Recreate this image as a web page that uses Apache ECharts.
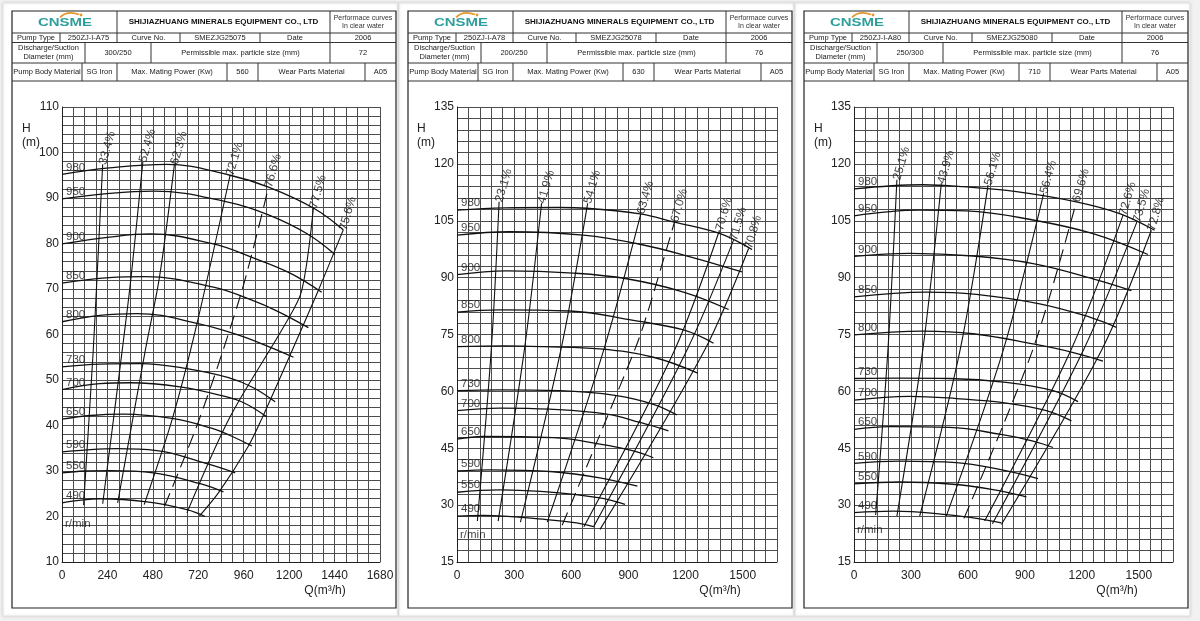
<!DOCTYPE html>
<html><head><meta charset="utf-8">
<script src="https://cdn.jsdelivr.net/npm/echarts@6/dist/echarts.min.js"></script>
<style>html,body{margin:0;padding:0;background:#f1f1f1}#c{width:1200px;height:621px}</style>
</head><body><div id="c"></div>
<script>
// ---------- header data ----------
const pumpTypes = ['250ZJ-I-A75', '250ZJ-I-A78', '250ZJ-I-A80'];
const curveNos = ['SMEZJG25075', 'SMEZJG25078', 'SMEZJG25080'];
const dates = ['2006', '2006', '2006'];
const diameters = ['300/250', '200/250', '250/300'];
const particleSizes = ['72', '76', '76'];
const powers = ['560', '630', '710'];
const bodyMaterial = 'SG Iron';
const wearMaterial = 'A05';

// ---------- axis data ----------
const xTickLabels = [[0, 240, 480, 720, 960, 1200, 1440, 1680], [0, 300, 600, 900, 1200, 1500], [0, 300, 600, 900, 1200, 1500]];
const yTickLabels = [[10, 20, 30, 40, 50, 60, 70, 80, 90, 100, 110], [15, 30, 45, 60, 75, 90, 105, 120, 135], [15, 30, 45, 60, 75, 90, 105, 120, 135]];

// ---------- panel 1 ----------
const speeds1 = [980, 950, 900, 850, 800, 730, 700, 650, 590, 550, 490];
const curves1 = [
  [[0,95.2],[250,96.6],[554,97.4],[888,95.0],[1091,92.4],[1328,87.8],[1486,83.0]],
  [[0,89.8],[250,91.0],[484,91.5],[888,89.0],[1091,86.3],[1293,82.2],[1442,77.6]],
  [[0,79.9],[250,81.4],[466,82.1],[800,79.9],[1000,77.0],[1205,73.5],[1372,69.3]],
  [[0,71.3],[250,72.5],[440,72.7],[800,70.4],[1000,67.6],[1134,65.2],[1302,61.5]],
  [[0,62.8],[200,64.2],[396,64.6],[730,62.3],[930,59.9],[1082,57.5],[1223,55.0]],
  [[0,52.9],[200,53.5],[413,53.6],[660,52.5],[880,50.5],[1011,48.3],[1126,45.2]],
  [[0,47.9],[200,49.2],[360,49.4],[624,48.5],[850,46.5],[960,45.0],[1082,41.9]],
  [[0,41.4],[150,42.2],[325,42.5],[589,41.5],[790,39.4],[888,37.8],[1003,35.5]],
  [[0,34.2],[150,34.7],[290,34.9],[501,34.5],[765,31.6],[915,29.6]],
  [[0,29.6],[120,30.0],[255,30.1],[484,29.6],[730,27.2],[853,25.4]],
  [[0,23.0],[100,23.6],[202,23.9],[449,23.2],[660,21.5],[756,20.0]]
];
const effNames1 = ['33.4%', '52.4%', '62.3%', '72.1%', '76.6%', '77.5%', '75.6%'];
const effLines1 = [
  [[114,22.5],[165,56.5],[185,72.6],[215,97.4]],
  [[215,22.8],[318,56.5],[365,72.6],[427,97.9]],
  [[294,23.0],[440,56.5],[515,72.6],[594,97.4]],
  [[434,22.6],[586,41.9],[712,62.2],[888,95.0]],
  [[542,22.3],[730,41.9],[950,69.6],[1091,92.4]],
  [[660,20.8],[888,41.9],[1178,62.2],[1266,69.6],[1328,87.8]],
  [[726,20.1],[830,25.4],[985,35.5],[1060,41.9],[1200,55.0],[1350,69.3],[1486,83.0]]
];

// ---------- panel 2 ----------
const speeds2 = [980, 950, 900, 850, 800, 730, 700, 650, 590, 550, 490];
const curves2 = [
  [[0,107.8],[250,108.4],[540,108.5],[680,108.3],[961,106.8],[1136,104.7],[1382,101.6],[1549,97.4]],
  [[0,101.2],[277,102.1],[663,101.2],[961,98.8],[1224,95.5],[1496,91.5]],
  [[0,90.8],[260,91.8],[610,91.2],[891,89.7],[1189,86.2],[1426,81.6]],
  [[0,80.9],[224,81.5],[593,81.2],[926,78.7],[1189,76.2],[1347,72.7]],
  [[0,71.8],[250,72.0],[452,71.8],[750,71.2],[1031,69.0],[1264,64.8]],
  [[0,60.2],[224,60.4],[540,60.2],[838,58.9],[1031,56.6],[1154,53.8]],
  [[0,54.9],[224,55.6],[487,55.3],[786,54.0],[961,51.8],[1110,49.6]],
  [[0,47.4],[137,48.1],[505,47.8],[750,46.1],[926,44.3],[1031,42.5]],
  [[0,39.0],[172,39.3],[505,38.8],[750,37.2],[947,35.0]],
  [[0,33.4],[224,34.0],[523,33.3],[750,31.9],[882,30.2]],
  [[0,27.1],[137,27.3],[470,26.2],[628,25.3],[716,24.3]]
];
const effNames2 = ['23.1%', '41.9%', '54.1%', '63.4%', '67.0%', '70.6%', '71.5%', '70.8%'];
const effLines2 = [
  [[107,25.8],[181,71.8],[221,110.0]],
  [[216,25.8],[356,71.8],[444,109.6]],
  [[333,25.5],[549,71.8],[686,109.6]],
  [[474,25.5],[772,71.2],[965,106.8]],
  [[552,24.7],[935,71.2],[1005,81.5],[1142,104.7]],
  [[666,24.3],[1145,71.2],[1378,102.5]],
  [[716,24.2],[1210,71.2],[1452,99.9]],
  [[751,23.6],[1303,71.2],[1531,97.7]]
];

// ---------- panel 3 ----------
const speeds3 = [980, 950, 900, 850, 800, 730, 700, 650, 590, 550, 490];
const curves3 = [
  [[0,113.4],[363,114.5],[574,114.0],[855,112.7],[1171,110.0],[1399,106.9],[1583,102.5]],
  [[0,106.3],[346,107.8],[592,107.6],[943,105.2],[1259,101.6],[1548,96.1]],
  [[0,95.6],[293,96.4],[627,95.7],[943,93.7],[1259,89.7],[1461,86.6]],
  [[0,84.9],[381,86.2],[644,85.6],[978,83.1],[1241,79.6],[1382,76.9]],
  [[0,74.9],[363,75.9],[627,75.2],[943,72.5],[1150,70.3],[1311,68.0]],
  [[0,63.4],[240,63.5],[504,63.4],[802,62.4],[1048,60.2],[1180,57.3]],
  [[0,57.7],[293,58.7],[539,58.1],[802,56.9],[1013,54.9],[1145,52.2]],
  [[0,50.0],[188,50.7],[504,50.5],[767,48.7],[943,46.9],[1048,45.2]],
  [[0,41.0],[240,41.6],[539,41.2],[767,39.4],[969,37.0]],
  [[0,35.6],[240,36.1],[521,35.5],[732,34.1],[908,32.2]],
  [[0,28.0],[205,28.4],[486,27.5],[662,26.4],[776,25.3]]
];
const effNames3 = ['25.1%', '43.9%', '56.1%', '56.4%', '69.6%', '72.6%', '73.5%', '72.8%'];
const effLines3 = [
  [[114,27.4],[179,71.2],[226,115.8]],
  [[226,27.1],[363,71.2],[460,114.9]],
  [[346,27.1],[560,71.2],[706,114.4]],
  [[486,27.1],[788,71.2],[999,112.2]],
  [[579,26.5],[943,71.2],[1171,110.0]],
  [[688,25.8],[1145,71.2],[1417,106.5]],
  [[729,25.1],[1211,71.2],[1490,104.7]],
  [[776,24.9],[1307,71.2],[1566,102.5]]
];
const rpmLabelH = [18.3, 22.1, 23.4];
const dashedIndex = [4, 4, 4];

// ---------- build ----------
const FONT = "'Liberation Sans', Arial, sans-serif";
const panels = [
  {speeds: speeds1, curves: curves1, effNames: effNames1, effLines: effLines1, yMin: 10, yMax: 110, yStep: 2},
  {speeds: speeds2, curves: curves2, effNames: effNames2, effLines: effLines2, yMin: 15, yMax: 135, yStep: 3},
  {speeds: speeds3, curves: curves3, effNames: effNames3, effLines: effLines3, yMin: 15, yMax: 135, yStep: 3}
];
const grids = [
  {left: 62, top: 107, width: 318, height: 455},
  {left: 457, top: 107, width: 320, height: 455},
  {left: 854, top: 107, width: 319, height: 455}
];
const offs = [12, 408, 804];
const W = 384;

const gridLine = {show: true, lineStyle: {color: '#4d4d4d', width: 1}};
const xAxes = panels.map((p, i) => ({
  type: 'value', gridIndex: i, min: 0, max: 1680, interval: 60,
  axisLine: {show: true, lineStyle: {color: '#222', width: 1}}, axisTick: {show: false},
  splitLine: gridLine,
  axisLabel: {margin: 8, fontSize: 12, color: '#222', fontFamily: FONT,
    formatter: v => xTickLabels[i].indexOf(v) >= 0 ? String(v) : ''}
}));
const yAxes = panels.map((p, i) => ({
  type: 'value', gridIndex: i, min: p.yMin, max: p.yMax, interval: p.yStep,
  axisLine: {show: true, lineStyle: {color: '#222', width: 1}}, axisTick: {show: false},
  splitLine: gridLine,
  axisLabel: {margin: 3, fontSize: 12, color: '#222', fontFamily: FONT,
    formatter: v => yTickLabels[i].indexOf(v) >= 0 ? String(v) : ''}
}));

const series = [];
panels.forEach((p, i) => {
  p.curves.forEach(c => series.push({
    type: 'line', xAxisIndex: i, yAxisIndex: i, data: c, smooth: 0.4, symbol: 'none',
    silent: true, lineStyle: {color: '#111', width: 1.3}, z: 3
  }));
  p.effLines.forEach((c, k) => series.push({
    type: 'line', xAxisIndex: i, yAxisIndex: i, data: c, smooth: 0.3, symbol: 'none',
    silent: true, lineStyle: {color: '#111', width: 1.1, type: k === dashedIndex[i] ? [14, 7] : 'solid'}, z: 3
  }));
  series.push({
    type: 'scatter', xAxisIndex: i, yAxisIndex: i, symbolSize: 0, silent: true, z: 4,
    data: p.speeds.map((s, k) => [0, p.curves[k][0][1], String(s)]),
    label: {show: true, position: [4, -1], align: 'left', verticalAlign: 'bottom',
      fontSize: 11.5, color: '#111', fontFamily: FONT, formatter: d => d.value[2]}
  });
  series.push({
    type: 'scatter', xAxisIndex: i, yAxisIndex: i, symbolSize: 0, silent: true, z: 4,
    data: [[0, rpmLabelH[i], 'r/min']],
    label: {show: true, position: [3, 0], align: 'left', verticalAlign: 'middle',
      fontSize: 11.5, color: '#111', fontFamily: FONT, formatter: d => d.value[2]}
  });
  series.push({
    type: 'scatter', xAxisIndex: i, yAxisIndex: i, symbolSize: 0, silent: true, z: 4,
    data: p.effLines.map((c, k) => [c[c.length - 1][0], c[c.length - 1][1], p.effNames[k]]),
    label: {show: true, position: [0, 0], align: 'left', verticalAlign: 'middle', rotate: 74,
      fontSize: 12, color: '#111', fontFamily: FONT, formatter: d => d.value[2]}
  });
});

// ---------- header tables (graphic) ----------
const graphic = [];
const Y0 = 11, Y1 = 33, Y2 = 42.5, Y3 = 63, Y4 = 81, YB = 608;
const rowCols = [
  {y0: Y0, y1: Y1, xs: [105, 318]},
  {y0: Y1, y1: Y2, xs: [48, 105, 168, 248, 318]},
  {y0: Y2, y1: Y3, xs: [73, 139, 318]},
  {y0: Y3, y1: Y4, xs: [70, 105, 215, 246, 353]}
];
function txt(x, y, text, size, extra) {
  return {type: 'text', silent: true, z: 10, style: Object.assign({
    x: x, y: y, text: text, fontSize: size, fontFamily: FONT, fill: '#222',
    textAlign: 'center', textVerticalAlign: 'middle', lineHeight: size + 1.5
  }, extra || {})};
}
offs.forEach((ox, i) => {
  graphic.push({type: 'rect', silent: true, z: -20, shape: {x: ox - 9, y: 3, width: W + 11, height: 613},
    style: {fill: '#fff', stroke: '#e3e3e3', lineWidth: 1, shadowBlur: 3, shadowColor: 'rgba(0,0,0,0.12)'}});
  graphic.push({type: 'rect', silent: true, z: 10, shape: {x: ox, y: Y0, width: W, height: YB - Y0},
    style: {fill: 'none', stroke: '#222', lineWidth: 1.2}});
  [Y1, Y2, Y3, Y4].forEach(y => graphic.push({type: 'line', silent: true, z: 10,
    shape: {x1: ox, y1: y, x2: ox + W, y2: y}, style: {stroke: '#333', lineWidth: 1}}));
  rowCols.forEach(r => r.xs.forEach(x => graphic.push({type: 'line', silent: true, z: 10,
    shape: {x1: ox + x, y1: r.y0, x2: ox + x, y2: r.y1}, style: {stroke: '#333', lineWidth: 1}})));
  // logo
  const logo = txt(0, 0, 'CNSME', 11.5, {fontWeight: 'bold', fill: '#2e9f9b'});
  logo.x = ox + 53; logo.y = 22.5; logo.scaleX = 1.3;
  graphic.push(logo);
  graphic.push({type: 'bezierCurve', silent: true, z: 11,
    shape: {x1: ox + 48, y1: 17.5, cpx1: ox + 55, cpy1: 10, x2: ox + 67, y2: 14.5},
    style: {stroke: '#e8962e', lineWidth: 1.8, fill: 'none'}});
  graphic.push({type: 'circle', silent: true, z: 11, shape: {cx: ox + 69, cy: 15, r: 1.4}, style: {fill: '#e8962e'}});
  // title
  graphic.push(txt(ox + 211.5, 22, 'SHIJIAZHUANG MINERALS EQUIPMENT CO., LTD', 8, {fontWeight: 'bold', fill: '#111'}));
  graphic.push(txt(ox + 351, 22, 'Performace curves\nIn clear water', 7, {fill: '#333'}));
  // row 2
  const ry2 = (Y1 + Y2) / 2 + 0.3;
  [[0, 48, 'Pump Type'], [48, 105, pumpTypes[i]], [105, 168, 'Curve No.'], [168, 248, curveNos[i]],
   [248, 318, 'Date'], [318, 384, dates[i]]].forEach(c => graphic.push(txt(ox + (c[0] + c[1]) / 2, ry2, c[2], 7.5)));
  const ry3 = (Y2 + Y3) / 2;
  [[0, 73, 'Discharge/Suction\nDiameter (mm)'], [73, 139, diameters[i]], [139, 318, 'Permissible max. particle size (mm)'],
   [318, 384, particleSizes[i]]].forEach(c => graphic.push(txt(ox + (c[0] + c[1]) / 2, ry3, c[2], 7.5)));
  const ry4 = (Y3 + Y4) / 2;
  [[0, 70, 'Pump Body Material'], [70, 105, bodyMaterial], [105, 215, 'Max. Mating Power (Kw)'], [215, 246, powers[i]],
   [246, 353, 'Wear Parts Material'], [353, 384, wearMaterial]].forEach(c => graphic.push(txt(ox + (c[0] + c[1]) / 2, ry4, c[2], 7.5)));
  // axis names
  const g = grids[i];
  graphic.push(txt(g.left - 40, 129, 'H', 12, {textAlign: 'left'}));
  graphic.push(txt(g.left - 40, 143, '(m)', 12, {textAlign: 'left'}));
  graphic.push(txt(g.left + 263, 591, 'Q(m³/h)', 12));
});

const chart = echarts.init(document.getElementById('c'));
chart.setOption({
  animation: false,
  backgroundColor: '#f1f1f1',
  textStyle: {fontFamily: FONT},
  grid: grids,
  xAxis: xAxes,
  yAxis: yAxes,
  series: series,
  graphic: graphic
});
</script></body></html>
